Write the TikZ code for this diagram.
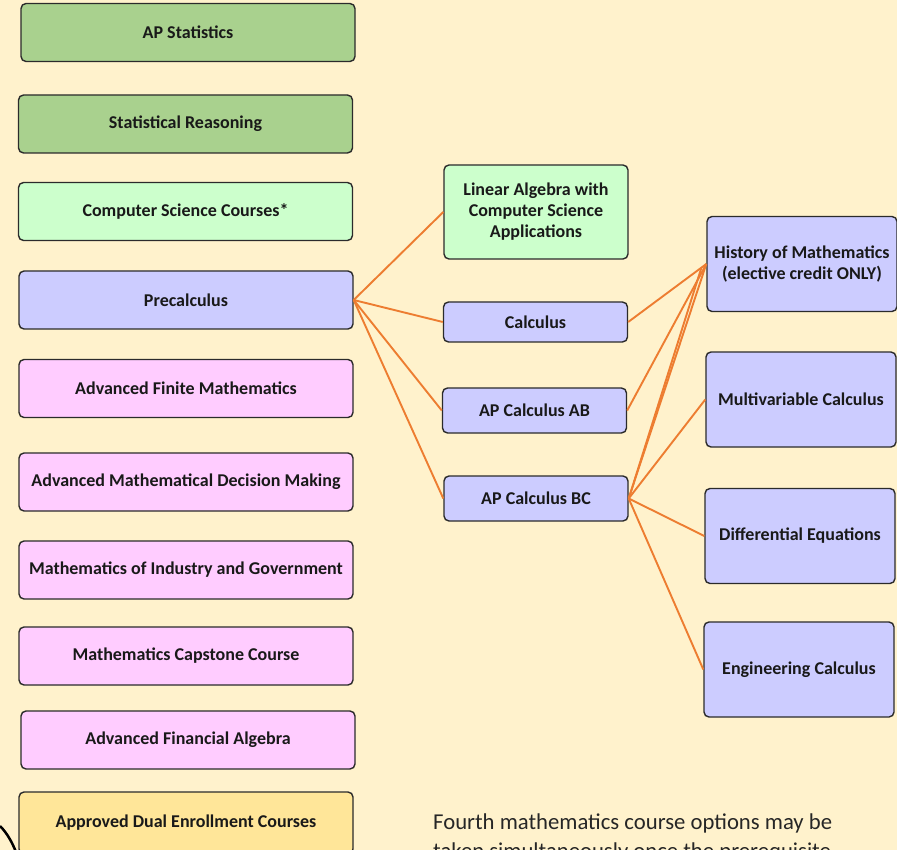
\documentclass[tikz,border=0pt]{standalone}
\usepackage{fontspec}
\setmainfont{Carlito}
\usepackage{xcolor}
\usepackage{tikz}
\usetikzlibrary{positioning}

\definecolor{bgcream}{HTML}{FFF2CC}
\definecolor{statgreen}{HTML}{A9D18E}
\definecolor{csgreen}{HTML}{CCFFCC}
\definecolor{calcblue}{HTML}{CCCCFF}
\definecolor{electpink}{HTML}{FFCCFF}
\definecolor{dualgold}{HTML}{FFE699}
\definecolor{linkorange}{HTML}{ED7D31}
\definecolor{edgegray}{HTML}{2B2B2B}

\begin{document}
\begin{tikzpicture}[
    x=1pt, y=-1pt,
    font=\bfseries\fontsize{18}{21}\selectfont,
    % --- node styles -------------------------------------------------
    course/.style={
        draw=edgegray, line width=1.4pt, rounded corners=5pt,
        align=center, inner sep=2pt, text=black!90,
        minimum width=334pt, minimum height=58pt
    },
    statbox/.style={course, fill=statgreen},
    csbox/.style={course, fill=csgreen},
    calcbox/.style={course, fill=calcblue},
    electbox/.style={course, fill=electpink},
    dualbox/.style={course, fill=dualgold},
    midbox/.style={minimum width=184pt},
    rightbox/.style={minimum width=190pt, minimum height=95pt},
    note/.style={font=\fontsize{22.7}{29}\selectfont, align=left, text=black!85,
        inner sep=0pt, anchor=base west},
    link/.style={linkorange, line width=1.9pt}
]

% --- canvas -------------------------------------------------------
\fill[bgcream] (0,0) rectangle (897,850);
\useasboundingbox (0,0) rectangle (897,850);

% --- left column: fourth course options ---------------------------
\node[statbox] (apstat) at (188,32.5) {AP Statistics};
\node[statbox] (statreason) at (185.5,124) {Statistical Reasoning};
\node[csbox] (cscourses) at (185.5,211.5) {Computer Science Courses*};
\node[calcbox] (precalc) at (186,300) {Precalculus};
\node[electbox] (afm) at (186,388.5) {Advanced Finite Mathematics};
\node[electbox] (amdm) at (186,482) {Advanced Mathematical Decision Making};
\node[electbox] (mig) at (186,570) {Mathematics of Industry and Government};
\node[electbox] (capstone) at (186,656) {Mathematics Capstone Course};
\node[electbox] (afa) at (188,740) {Advanced Financial Algebra};
\node[dualbox, minimum height=62pt] (dual) at (186,823)
    {\raisebox{2pt}{Approved Dual Enrollment Courses}};

% --- middle column --------------------------------------------------
\node[csbox, midbox, minimum height=94pt] (linalg) at (536,212)
    {Linear Algebra with\\Computer Science\\Applications};
\node[calcbox, midbox, minimum height=40pt] (calc) at (535.5,322) {Calculus};
\node[calcbox, midbox, minimum height=45pt] (apab) at (534.5,410.5) {AP Calculus AB};
\node[calcbox, midbox, minimum height=45pt] (apbc) at (536,498.5) {AP Calculus BC};

% --- right column ---------------------------------------------------
\node[calcbox, rightbox] (history) at (802,264)
    {History of Mathematics\\(elective credit ONLY)};
\node[calcbox, rightbox] (multivar) at (801,399.5) {Multivariable Calculus};
\node[calcbox, rightbox] (diffeq) at (800,536) {Differential Equations};
\node[calcbox, rightbox] (engcalc) at (799,669.5) {Engineering Calculus};

% --- prerequisite links ---------------------------------------------
\draw[link] (precalc.east) -- (linalg.west);
\draw[link] (precalc.east) -- (calc.west);
\draw[link] (precalc.east) -- (apab.west);
\draw[link] (precalc.east) -- (apbc.west);

\draw[link] (calc.east) -- (history.west);
\draw[link] (apab.east) -- (history.west);
\draw[link] (apbc.east) -- (history.west);
\draw[link] (apbc.east) -- ([xshift=-5pt,yshift=-4pt]history.west);
\draw[link] (apbc.east) -- (multivar.west);
\draw[link] (apbc.east) -- (diffeq.west);
\draw[link] (apbc.east) -- (engcalc.west);

% --- footnote text (runs off the page) --------------------------------
\node[note] (footnote) at (433,858)
    {Fourth mathematics course options may be\\
     taken simultaneously once the prerequisite};

% --- edge of a shape at bottom left -----------------------------------
\draw[black, line width=2.5pt] (0,826) .. controls (7,833) and (12,842) .. (16,852);

\end{tikzpicture}
\end{document}
